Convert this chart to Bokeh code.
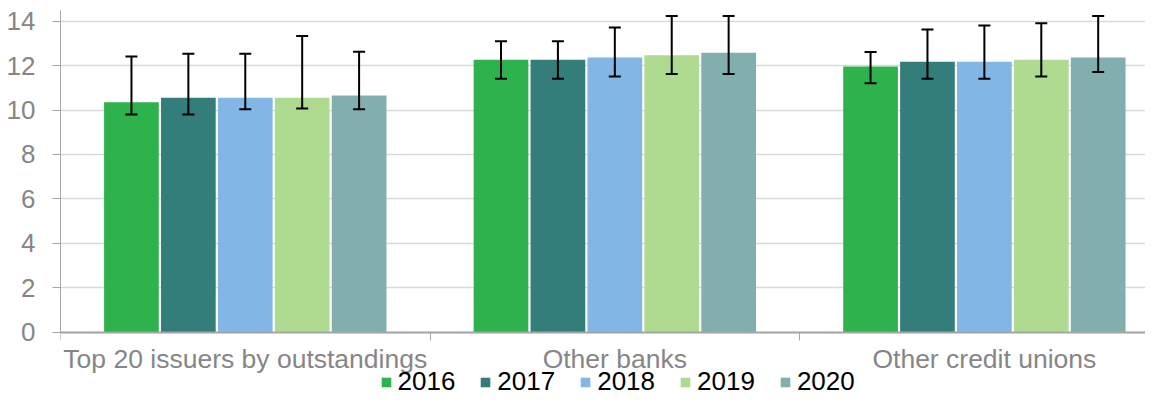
from bokeh.plotting import figure
from bokeh.models import (ColumnDataSource, Range1d, FixedTicker, Whisker, TeeHead,
                          Legend, LegendItem)
from bokeh.transform import dodge
from bokeh.embed import file_html
from bokeh.resources import INLINE

categories = ["Top 20 issuers by outstandings", "Other banks", "Other credit unions"]
years = ["2016", "2017", "2018", "2019", "2020"]
colors = ["#2EB24B", "#337D7B", "#82B6E4", "#AEDB8F", "#80AFAE"]

v2016 = [10.35, 12.26, 11.96]
v2017 = [10.55, 12.26, 12.17]
v2018 = [10.55, 12.37, 12.17]
v2019 = [10.55, 12.47, 12.26]
v2020 = [10.65, 12.58, 12.37]

up2016 = [12.41, 13.10, 12.61]
up2017 = [12.53, 13.10, 13.62]
up2018 = [12.53, 13.72, 13.81]
up2019 = [13.33, 14.23, 13.91]
up2020 = [12.62, 14.23, 14.23]

lo2016 = [9.80, 11.41, 11.21]
lo2017 = [9.80, 11.41, 11.41]
lo2018 = [10.03, 11.51, 11.41]
lo2019 = [10.07, 11.62, 11.51]
lo2020 = [10.03, 11.62, 11.71]

y_ticks = [0, 2, 4, 6, 8, 10, 12, 14]

values = [v2016, v2017, v2018, v2019, v2020]
uppers = [up2016, up2017, up2018, up2019, up2020]
lowers = [lo2016, lo2017, lo2018, lo2019, lo2020]

centers = [i + 0.5 for i in range(len(categories))]
data = {"x": centers}
for yr, v, u, l in zip(years, values, uppers, lowers):
    data["v" + yr] = v
    data["u" + yr] = u
    data["l" + yr] = l
src = ColumnDataSource(data)

FONT = "Liberation Sans"
GRAY_TXT = "#868686"
AXIS_GRAY = "#A6A6A6"

Y_TOP = 14.48
# frame extends below zero so the category labels and legend sit inside it
p = figure(width=1145, height=397, output_backend="svg", toolbar_location=None,
           x_range=Range1d(0, 2.936), y_range=Range1d(-2.94, Y_TOP),
           min_border_left=60, min_border_right=0, min_border_top=10,
           min_border_bottom=0)
p.outline_line_color = None
p.background_fill_color = "white"
p.border_fill_color = "white"

pitch = 0.154
bar_w = 0.148
items = []
for i, (yr, col) in enumerate(zip(years, colors)):
    off = (i - 2) * pitch
    r = p.vbar(x=dodge("x", off, range=p.x_range), top="v" + yr, width=bar_w,
               bottom=0, source=src, fill_color=col, line_color=None)
    w = Whisker(source=src, base=dodge("x", off, range=p.x_range),
                upper="u" + yr, lower="l" + yr, line_color="black", line_width=2,
                level="overlay",
                upper_head=TeeHead(size=12, line_width=2, line_color="black"),
                lower_head=TeeHead(size=12, line_width=2, line_color="black"))
    p.add_layout(w)
    items.append(LegendItem(label=yr, renderers=[r]))

# x axis, pinned at y = 0
xa = p.xaxis[0]
xa.fixed_location = 0
xa.ticker = FixedTicker(ticks=centers, minor_ticks=[0, 1, 2, 3])
xa.major_label_overrides = {c: lab for c, lab in zip(centers, categories)}
xa.major_tick_out = 0
xa.major_tick_in = 0
xa.minor_tick_out = 8
xa.minor_tick_in = 0
xa.minor_tick_line_color = AXIS_GRAY
xa.axis_line_color = AXIS_GRAY
xa.axis_line_width = 2
xa.major_label_standoff = 4
xa.major_label_text_font = FONT
xa.major_label_text_font_size = "26.5px"
xa.major_label_text_color = GRAY_TXT

# y axis
ya = p.yaxis[0]
ya.bounds = (0, Y_TOP)
ya.ticker = FixedTicker(ticks=y_ticks)
ya.major_tick_out = 8
ya.major_tick_in = 0
ya.minor_tick_out = 0
ya.minor_tick_in = 0
ya.major_tick_line_color = AXIS_GRAY
ya.axis_line_color = AXIS_GRAY
ya.axis_line_width = 1
ya.major_label_standoff = 17
ya.major_label_text_font = FONT
ya.major_label_text_font_size = "26px"
ya.major_label_text_color = GRAY_TXT

p.xgrid.visible = False
p.ygrid.grid_line_color = "#D9D9D9"
p.ygrid.grid_line_width = 1.3

legend = Legend(items=items, location=(319.5, 0), orientation="horizontal",
                glyph_width=12, glyph_height=12, label_standoff=6, spacing=24,
                padding=0, margin=0, border_line_color=None,
                background_fill_alpha=0, label_text_font=FONT,
                label_text_font_size="26px", label_text_color="black")
p.add_layout(legend, "center")

open("out.html", "w").write(file_html(p, INLINE))
